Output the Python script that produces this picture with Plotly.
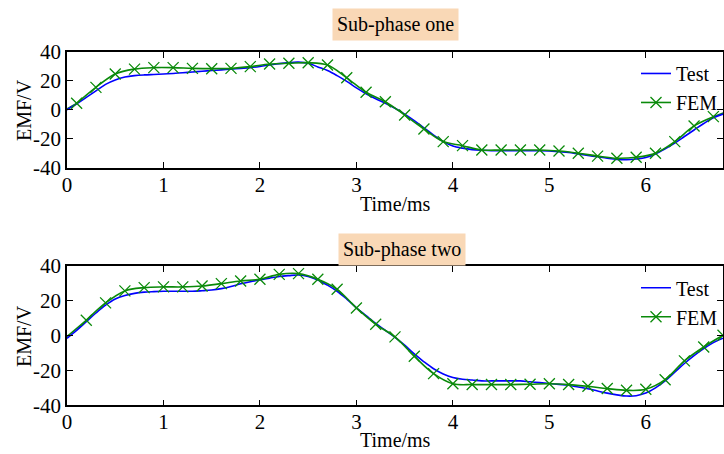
import plotly.graph_objects as go

# ---------------- data ----------------
t_test = [round(0.1 * i, 1) for i in range(69)]  # 0.0 .. 6.8

test_one = [0, 4, 8.5, 13, 17.5, 20.5, 22.5, 23.5, 24, 24.3,
            24.6, 25, 25.5, 26, 26.5, 27, 27.5, 28, 28.5, 29,
            29.8, 30.8, 31.8, 32.5, 32.8, 32, 29.5, 27, 23.5, 19.5,
            15, 11, 7.5, 4.5, 1, -3, -7.5, -12.5, -17.5, -22,
            -25, -26.5, -27.5, -28, -28.3, -28.3, -28.3, -28.3, -28.3, -28.3,
            -28.5, -29, -29.5, -30.5, -31.5, -32.5, -33.5, -34.3, -34.5, -34,
            -33, -30.5, -27, -23, -18.5, -14, -9.5, -5.5, -3]

test_two = [-1.5, 3, 8, 13, 17.5, 21, 23, 24.3, 25, 25.3,
            25.5, 25.5, 25.5, 25.5, 25.8, 26.2, 27, 28.2, 29.8, 31,
            32, 33, 34, 34.5, 34.8, 34, 32, 29, 25.5, 21,
            16, 11.5, 7, 3, -1, -5.5, -10.5, -15, -19, -22,
            -24, -25, -25.5, -26, -26, -26, -26, -26, -26.5, -27,
            -27.5, -28, -28.5, -29.5, -30.5, -31.8, -33, -34, -34.7, -34.5,
            -33, -30, -26, -21, -16, -11.5, -7.5, -4, -1.5]

t_fem_one = [0.1, 0.3, 0.5, 0.7, 0.9, 1.1, 1.3, 1.5, 1.7, 1.9,
             2.1, 2.3, 2.5, 2.7, 2.9, 3.1, 3.3, 3.5, 3.7, 3.9,
             4.1, 4.3, 4.5, 4.7, 4.9, 5.1, 5.3, 5.5, 5.7, 5.9,
             6.1, 6.3, 6.5, 6.7]
fem_one = [4.4, 15.4, 24.6, 28, 29, 29, 28.5, 28.3, 28.5, 29.7,
           31.5, 32, 32.4, 30.8, 22, 12, 5.5, -3.7, -13.3, -22,
           -24.8, -27.8, -27.8, -27.8, -27.8, -28.5, -30, -32, -33.5, -32.8,
           -30, -22, -11.2, -4.8]
t_fem_one_ends = [0.0, 0.1, None, 6.7, 6.9]
fem_one_ends = [0.5, 4.4, None, -4.8, 0]

t_fem_two = [0.2, 0.4, 0.6, 0.8, 1.0, 1.2, 1.4, 1.6, 1.8, 2.0,
             2.2, 2.4, 2.6, 2.8, 3.0, 3.2, 3.4, 3.6, 3.8, 4.0,
             4.2, 4.4, 4.6, 4.8, 5.0, 5.2, 5.4, 5.6, 5.8, 6.0,
             6.2, 6.4, 6.6, 6.8]
fem_two = [8.8, 18.8, 25.7, 27.6, 28, 28, 28.5, 29.9, 31.4, 32.4,
           35.2, 35.6, 32.4, 26.6, 15.9, 6.5, -0.7, -11.8, -21.8, -27.6,
           -28.1, -28.1, -28.1, -27.9, -27.6, -28.1, -29.1, -30.4, -31.4, -30.8,
           -25.3, -14.5, -6.5, 0.2]
t_fem_two_ends = [0.0, 0.2]
fem_two_ends = [-0.5, 8.8]

y_ticks = [-40, -20, 0, 20, 40]
y_ticktext = ["-40", "-20", "0", "20", "40"]
x_ticks = [0, 1, 2, 3, 4, 5, 6]

BLUE = "#0000FF"
GREEN = "#0A8A0A"
FONT = "Liberation Serif, Times New Roman, serif"

fig = go.Figure()

# top subplot
fig.add_trace(go.Scatter(x=t_fem_one_ends, y=fem_one_ends, mode="lines",
                         line=dict(color=GREEN, width=1.6, shape="spline"),
                         showlegend=False, xaxis="x", yaxis="y"))
fig.add_trace(go.Scatter(x=t_test, y=test_one, mode="lines", name="Test",
                         line=dict(color=BLUE, width=1.6, shape="spline"),
                         xaxis="x", yaxis="y", legend="legend"))
fig.add_trace(go.Scatter(x=t_fem_one, y=fem_one, mode="lines+markers", name="FEM",
                         line=dict(color=GREEN, width=1.6, shape="spline"),
                         marker=dict(symbol="x-thin-open", size=11, color=GREEN,
                                     line=dict(color=GREEN, width=1.3)),
                         xaxis="x", yaxis="y", legend="legend"))

# bottom subplot
fig.add_trace(go.Scatter(x=t_fem_two_ends, y=fem_two_ends, mode="lines",
                         line=dict(color=GREEN, width=1.6, shape="spline"),
                         showlegend=False, xaxis="x2", yaxis="y2"))
fig.add_trace(go.Scatter(x=t_test, y=test_two, mode="lines", name="Test",
                         line=dict(color=BLUE, width=1.6, shape="spline"),
                         xaxis="x2", yaxis="y2", legend="legend2"))
fig.add_trace(go.Scatter(x=t_fem_two, y=fem_two, mode="lines+markers", name="FEM",
                         line=dict(color=GREEN, width=1.6, shape="spline"),
                         marker=dict(symbol="x-thin-open", size=11, color=GREEN,
                                     line=dict(color=GREEN, width=1.3)),
                         xaxis="x2", yaxis="y2", legend="legend2"))

H = 454.0
W = 724.0
ML, MR = 67, 1
def dom(top_px, bot_px):
    return [1 - bot_px / H, 1 - top_px / H]

def py(px):
    return 1 - px / H

def pxp(px):
    return (px - ML) / (W - ML - MR)

xcommon = dict(range=[0, 6.8], tickvals=x_ticks, ticks="inside", ticklen=6,
               tickwidth=1.3, tickcolor="black", showline=True, linecolor="black",
               linewidth=1.6, mirror="ticks", showgrid=False, zeroline=False,
               automargin=False, ticklabelstandoff=-3,
               tickfont=dict(family=FONT, size=21, color="black"))
ycommon = dict(range=[-40, 40], tickvals=y_ticks, ticktext=y_ticktext, ticks="inside",
               ticklen=6, tickwidth=1.3, tickcolor="black", showline=True,
               linecolor="black", linewidth=1.6, mirror="ticks", showgrid=False,
               zeroline=False, automargin=False,
               tickfont=dict(family=FONT, size=21, color="black"))

title_font = dict(family=FONT, size=20, color="black")
PEACH = "#F9D8B6"

fig.update_layout(
    width=724, height=454,
    margin=dict(l=ML, r=MR, t=0, b=0, autoexpand=False),
    paper_bgcolor="white", plot_bgcolor="white",
    xaxis=dict(xcommon, domain=[0, 1], anchor="y"),
    yaxis=dict(ycommon, domain=dom(51.7, 167.7), anchor="x"),
    xaxis2=dict(xcommon, domain=[0, 1], anchor="y2"),
    yaxis2=dict(ycommon, domain=dom(266, 405.3), anchor="x2"),
    legend=dict(x=1.0, xanchor="right", y=dom(51.7, 167.7)[1] - 0.005, yanchor="top",
                bgcolor="rgba(0,0,0,0)", font=dict(family=FONT, size=20, color="black"),
                itemwidth=30, tracegroupgap=0),
    legend2=dict(x=1.0, xanchor="right", y=dom(266, 405.3)[1] - 0.005, yanchor="top",
                 bgcolor="rgba(0,0,0,0)", font=dict(family=FONT, size=20, color="black"),
                 itemwidth=30, tracegroupgap=0),
    annotations=[
        dict(text="Sub-phase one", x=pxp(395), xref="paper", xanchor="center",
             y=py(25), yref="paper", yanchor="middle",
             showarrow=False, bgcolor=PEACH, borderpad=4, font=title_font),
        dict(text="Sub-phase two", x=pxp(402), xref="paper", xanchor="center",
             y=py(249), yref="paper", yanchor="middle",
             showarrow=False, bgcolor=PEACH, borderpad=4, font=title_font),
        dict(text="Time/ms", x=pxp(395), xref="paper", xanchor="center",
             y=py(204), yref="paper", yanchor="middle", showarrow=False, font=title_font),
        dict(text="Time/ms", x=pxp(395), xref="paper", xanchor="center",
             y=py(440), yref="paper", yanchor="middle", showarrow=False, font=title_font),
        dict(text="EMF/V", x=pxp(24), xref="paper", xanchor="center",
             y=py(110), yref="paper", yanchor="middle", textangle=-90,
             showarrow=False, font=title_font),
        dict(text="EMF/V", x=pxp(24), xref="paper", xanchor="center",
             y=py(336), yref="paper", yanchor="middle", textangle=-90,
             showarrow=False, font=title_font),
    ],
)

fig.write_html("out.html", post_script="document.body.style.margin='0';",
               config={"displayModeBar": False})
